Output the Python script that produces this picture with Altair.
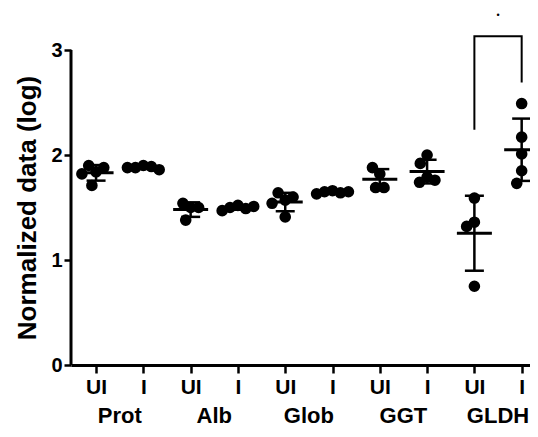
import altair as alt
import numpy as np
import pandas as pd

# ---- data ----
groups = ["Prot", "Alb", "Glob", "GGT", "GLDH"]
conditions = ["UI", "I"]

prot_ui = [1.84, 1.71, 1.90, 1.88, 1.82]
prot_i = [1.90, 1.88, 1.89, 1.86, 1.88]
alb_ui = [1.50, 1.38, 1.54, 1.50]
alb_i = [1.52, 1.50, 1.49, 1.47, 1.51]
glob_ui = [1.57, 1.64, 1.60, 1.54, 1.41]
glob_i = [1.66, 1.65, 1.64, 1.65, 1.63]
ggt_ui = [1.82, 1.88, 1.69, 1.69]
ggt_i = [1.79, 1.74, 2.00, 1.92, 1.76]
gldh_ui = [1.59, 1.36, 1.32, 0.75]
gldh_i = [2.49, 2.17, 2.01, 1.85, 1.73]

series = [prot_ui, prot_i, alb_ui, alb_i, glob_ui, glob_i, ggt_ui, ggt_i, gldh_ui, gldh_i]

y_ticks = [0, 1, 2, 3]
bracket_from, bracket_to = 8, 9          # GLDH UI -> GLDH I
bracket_top, bracket_left_end, bracket_right_end = 3.13, 2.24, 2.69
sig_label = "•"
sig_y = 3.33

# ---- layout ----
W, H = 459, 357
PX_PER_UNIT_X = 47.29
X_DOM = [-0.53, -0.53 + W / PX_PER_UNIT_X]
Y_DOM = [0, 3.4]
px_x = W / (X_DOM[1] - X_DOM[0])
px_y = H / (Y_DOM[1] - Y_DOM[0])
FONT = "Liberation Sans"


def swarm(vals, dx_min=8.0, dy_min=16.0):
    placed = []
    offs = []
    for v in vals:
        y = v * px_y
        cands = [0.0]
        for oy, ox in placed:
            dy = abs(y - oy)
            if dy < dy_min:
                w = dx_min * np.sqrt(1 - (dy / dy_min) ** 2)
                cands += [ox - w, ox + w]

        def ok(c):
            return all(((c - ox) / dx_min) ** 2 + ((y - oy) / dy_min) ** 2 >= 0.999
                       for oy, ox in placed)

        best = min((c for c in cands if ok(c)), key=lambda c: (abs(c), c))
        placed.append((y, best))
        offs.append(best)
    return offs


rows = []
stats = []
for i, vals in enumerate(series):
    offs = swarm(vals)
    for v, o in zip(vals, offs):
        rows.append({"idx": i, "pos": i + o / px_x, "value": v})
    arr = np.array(vals)
    m, s = arr.mean(), arr.std(ddof=1)
    stats.append({"idx": i, "mean": m, "lo": m - s, "hi": m + s})

pts = pd.DataFrame(rows)
st = pd.DataFrame(stats)
grp = pd.DataFrame({"g": groups, "pos": [2 * k + 0.5 for k in range(len(groups))]})
br = pd.DataFrame({
    "x": [bracket_from, bracket_from, bracket_to, bracket_to],
    "y": [bracket_left_end, bracket_top, bracket_top, bracket_right_end],
    "o": [0, 1, 2, 3],
})
sig = pd.DataFrame({"x": [(bracket_from + bracket_to) / 2], "y": [sig_y], "t": [sig_label]})

xscale = alt.Scale(domain=X_DOM, nice=False, zero=False)
yscale = alt.Scale(domain=Y_DOM, nice=False)

xaxis = alt.Axis(
    values=list(range(10)),
    labelExpr="datum.value % 2 == 0 ? 'UI' : 'I'",
    title=None, grid=False, domain=True, domainWidth=3, domainColor="black",
    ticks=True, tickSize=8, tickWidth=2.5, tickColor="black",
    labelFont=FONT, labelFontSize=21, labelFontWeight="bold", labelColor="black",
    labelPadding=3,
)
yaxis = alt.Axis(
    values=y_ticks, format="d", grid=False, domain=False,
    ticks=True, tickSize=7, tickWidth=2.5, tickColor="black",
    labelFont=FONT, labelFontSize=20, labelFontWeight="bold", labelColor="black",
    labelPadding=2,
    title="Normalized data (log)", titleFont=FONT, titleFontSize=26,
    titleFontWeight="bold", titleColor="black", titleX=-44, titleY=199.5,
    titleBaseline="middle", titleAngle=-90,
)

points = alt.Chart(pts).mark_circle(size=135, color="black", opacity=1).encode(
    x=alt.X("pos:Q", scale=xscale, axis=xaxis),
    y=alt.Y("value:Q", scale=yscale, axis=yaxis),
)

base = alt.Chart(st)
vbar = base.mark_rule(color="black", strokeWidth=2.5).encode(
    x=alt.X("idx:Q", scale=xscale), y=alt.Y("lo:Q", scale=yscale), y2="hi:Q")
mean_t = base.mark_tick(orient="horizontal", size=35, thickness=3, color="black", opacity=1).encode(
    x=alt.X("idx:Q", scale=xscale), y=alt.Y("mean:Q", scale=yscale))
lo_t = base.mark_tick(orient="horizontal", size=19, thickness=2.5, color="black", opacity=1).encode(
    x=alt.X("idx:Q", scale=xscale), y=alt.Y("lo:Q", scale=yscale))
hi_t = base.mark_tick(orient="horizontal", size=19, thickness=2.5, color="black", opacity=1).encode(
    x=alt.X("idx:Q", scale=xscale), y=alt.Y("hi:Q", scale=yscale))

yline = alt.Chart(pd.DataFrame({"a": [y_ticks[0]], "b": [y_ticks[-1]]})).mark_rule(
    color="black", strokeWidth=3).encode(
    x=alt.value(0), y=alt.Y("a:Q", scale=yscale), y2="b:Q")

bracket = alt.Chart(br).mark_line(color="black", strokeWidth=2).encode(
    x=alt.X("x:Q", scale=xscale), y=alt.Y("y:Q", scale=yscale), order="o:Q")

sig_t = alt.Chart(sig).mark_text(font=FONT, fontSize=9, baseline="middle",
                                 align="center", color="black").encode(
    x=alt.X("x:Q", scale=xscale), y=alt.Y("y:Q", scale=yscale), text="t:N")

glabels = alt.Chart(grp).mark_text(font=FONT, fontSize=22, fontWeight="bold",
                                   baseline="middle", align="center", color="black").encode(
    x=alt.X("pos:Q", scale=xscale), y=alt.value(408), text="g:N")

chart = alt.layer(points, vbar, mean_t, lo_t, hi_t, yline, bracket, sig_t, glabels).properties(
    width=W, height=H,
    autosize=alt.AutoSizeParams(type="none"),
    padding={"left": 63, "top": 0, "right": 0, "bottom": 64},
    background="white",
).configure_view(stroke=None)

chart.save("out.html", embed_options={"renderer": "svg", "actions": False})
